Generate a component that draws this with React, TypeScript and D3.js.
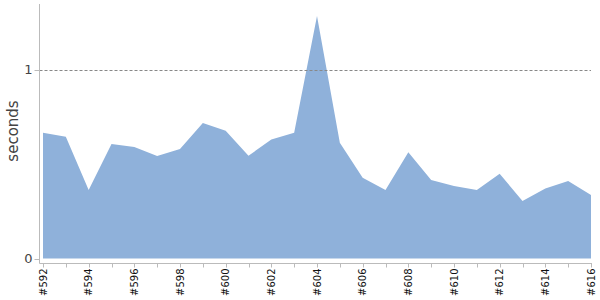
import React from "react";
import * as d3 from "d3";

const builds: number[] = [592,593,594,595,596,597,598,599,600,601,602,603,604,605,606,607,608,609,610,611,612,613,614,615,616];
const seconds: number[] = [0.666,0.644,0.362,0.606,0.590,0.542,0.579,0.717,0.676,0.544,0.630,0.666,1.283,0.613,0.428,0.362,0.563,0.415,0.384,0.362,0.449,0.304,0.371,0.410,0.336];
const yTicks: number[] = [0, 1];
const yLabel = "seconds";

export default function App() {
  const W = 600, H = 300;
  const x = d3.scaleLinear().domain([592, 616]).range([43, 591]);
  const y = d3.scaleLinear().domain([0, (d3.max(seconds) as number) * 1.05]).range([258.5, 4]);
  const data = builds.map((b, i) => ({ b, v: seconds[i] }));
  const area = d3.area<{ b: number; v: number }>()
    .x(d => x(d.b))
    .y0(y(0))
    .y1(d => y(d.v));
  const axisX = 39.5;
  const axisY = 263.5;
  const font = "DejaVu Sans, Verdana, sans-serif";
  return (
    <svg width={W} height={H} style={{ position: "absolute", left: 0, top: 0, background: "#fff" }}>
      <path d={area(data) || ""} fill="#8fb1da" />
      {yTicks.filter(t => t > 0).map(t => (
        <line key={"g" + t} x1={axisX} x2={591} y1={Math.round(y(t)) + 0.5} y2={Math.round(y(t)) + 0.5}
          stroke="#888" strokeDasharray="3,2" strokeWidth={1} />
      ))}
      <line x1={axisX} x2={axisX} y1={4} y2={axisY} stroke="#bbb" />
      <line x1={axisX} x2={592} y1={axisY} y2={axisY} stroke="#bbb" />
      {yTicks.map(t => (
        <g key={"y" + t}>
          <line x1={axisX - 5} x2={axisX} y1={Math.round(y(t)) + 0.5} y2={Math.round(y(t)) + 0.5} stroke="#bbb" />
          <text x={axisX - 7} y={y(t)} dy="0.35em" textAnchor="end" fontFamily={font} fontSize={13} fill="#444">{t}</text>
        </g>
      ))}
      {builds.map((b, i) => (
        <g key={"x" + b}>
          <line x1={Math.round(x(b)) + 0.5} x2={Math.round(x(b)) + 0.5} y1={axisY} y2={axisY + 4} stroke="#bbb" />
          {i % 2 === 0 && (
            <text transform={`translate(${x(b)},${axisY + 5}) rotate(-90)`} dy="0.35em" textAnchor="end"
              fontFamily={font} fontSize={10} fill="#111">{"#" + b}</text>
          )}
        </g>
      ))}
      <text transform={`translate(13,${131}) rotate(-90)`} dy="0.35em" textAnchor="middle" fontFamily={font} fontSize={15} fill="#444">{yLabel}</text>
    </svg>
  );
}
